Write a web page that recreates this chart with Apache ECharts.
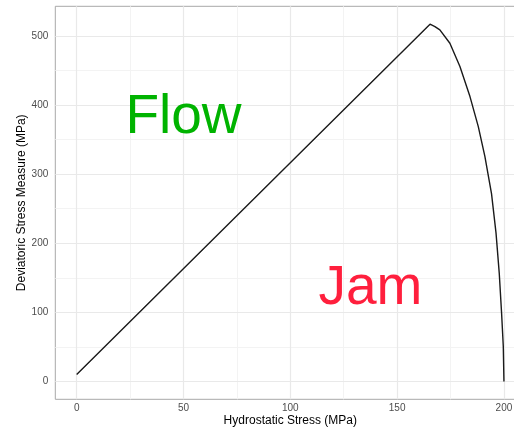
<!DOCTYPE html>
<html>
<head>
<meta charset="utf-8">
<script src="https://cdn.jsdelivr.net/npm/echarts@6/dist/echarts.min.js"></script>
<style>
  html, body { margin: 0; padding: 0; background: #fff; overflow: hidden; }
  #chart { width: 540px; height: 429px; }
</style>
</head>
<body>
<div id="chart"></div>
<script>
// Stress path: hydrostatic (x) vs deviatoric (y), both in MPa
const hydrostatic = [0, 165.4, 167.7, 170.0, 174.7, 179.4, 184.1, 188.0, 191.1, 194.2, 196.3, 197.8, 198.9, 199.7, 200];
const deviatoric  = [10, 517, 513.5, 508.7, 489.4, 455.6, 412.2, 368.8, 325.4, 271.5, 214.6, 156.8, 98.9, 50.6, 0];

// Axis ticks
const xTicks = [0, 50, 100, 150, 200];
const yTicks = [0, 100, 200, 300, 400, 500];
const xMinorTicks = [25, 75, 125, 175];
const yMinorTicks = [50, 150, 250, 350, 450];

// Region annotations
const regionNames = ['Flow', 'Jam'];
const regionX = [50, 137.5];
const regionY = [381, 134];
const regionColors = ['#00B300', '#FF1F3D'];

// Panel range with 5% padding around the data extent
const xPad = (200 - 0) * 0.05;
const yPad = (517 - 0) * 0.05;

const chart = echarts.init(document.getElementById('chart'), null, { renderer: 'canvas' });

const pathData = hydrostatic.map((x, i) => [x, deviatoric[i]]);

function gridLine(axisKey, values, color, width) {
  return values.map(v => ({ [axisKey]: v, lineStyle: { color: color, width: width, type: 'solid' } }));
}

const option = {
  backgroundColor: '#ffffff',
  animation: false,
  textStyle: { fontFamily: 'Liberation Sans, Arial, sans-serif' },
  grid: {
    left: 55.3, top: 6.3, width: 470, height: 393,
    outerBoundsMode: 'none',
    show: true, borderColor: '#a8a8a8', borderWidth: 1, backgroundColor: 'transparent'
  },
  xAxis: {
    type: 'value',
    min: 0 - xPad, max: 200 + xPad,
    name: 'Hydrostatic Stress (MPa)',
    nameLocation: 'middle', nameGap: 15, nameMoveOverlap: false,
    nameTextStyle: { color: '#000', fontSize: 12, fontFamily: 'Liberation Sans' },
    axisLine: { show: false },
    splitLine: { show: false },
    axisTick: { show: true, customValues: xTicks, length: 3, lineStyle: { color: '#a8a8a8', width: 1 } },
    axisLabel: { customValues: xTicks, color: '#4d4d4d', fontSize: 10, margin: 4, fontFamily: 'Liberation Sans' }
  },
  yAxis: {
    type: 'value',
    min: 0 - yPad, max: 517 + yPad,
    name: 'Deviatoric Stress Measure (MPa)',
    nameLocation: 'middle', nameGap: 28, nameRotate: 90, nameMoveOverlap: false,
    nameTextStyle: { color: '#000', fontSize: 12, fontFamily: 'Liberation Sans' },
    axisLine: { show: false },
    splitLine: { show: false },
    axisTick: { show: true, customValues: yTicks, length: 4, lineStyle: { color: '#a8a8a8', width: 1 } },
    axisLabel: { customValues: yTicks, color: '#4d4d4d', fontSize: 10, margin: 7, fontFamily: 'Liberation Sans' }
  },
  series: [
    {
      // panel grid lines
      type: 'line',
      data: [],
      z: 1,
      silent: true,
      markLine: {
        z: 1,
        silent: true,
        symbol: 'none',
        label: { show: false },
        emphasis: { disabled: true },
        data: [].concat(
          gridLine('xAxis', xMinorTicks, '#f3f3f3', 1),
          gridLine('yAxis', yMinorTicks, '#f3f3f3', 1),
          gridLine('xAxis', xTicks, '#e9e9e9', 1.2),
          gridLine('yAxis', yTicks, '#e9e9e9', 1.2)
        )
      }
    },
    {
      type: 'line',
      data: pathData,
      z: 3,
      showSymbol: false,
      symbol: 'none',
      lineStyle: { color: '#1a1a1a', width: 1.4 },
      clip: true
    },
    {
      type: 'scatter',
      z: 4,
      symbolSize: 0,
      silent: true,
      itemStyle: { opacity: 1 },
      data: regionNames.map((n, i) => ({
        name: n,
        value: [regionX[i], regionY[i]],
        label: {
          show: true, position: 'inside', formatter: '{b}', opacity: 1,
          color: regionColors[i], fontSize: 55, fontFamily: 'Liberation Sans'
        }
      }))
    }
  ]
};

chart.setOption(option);
</script>
</body>
</html>
